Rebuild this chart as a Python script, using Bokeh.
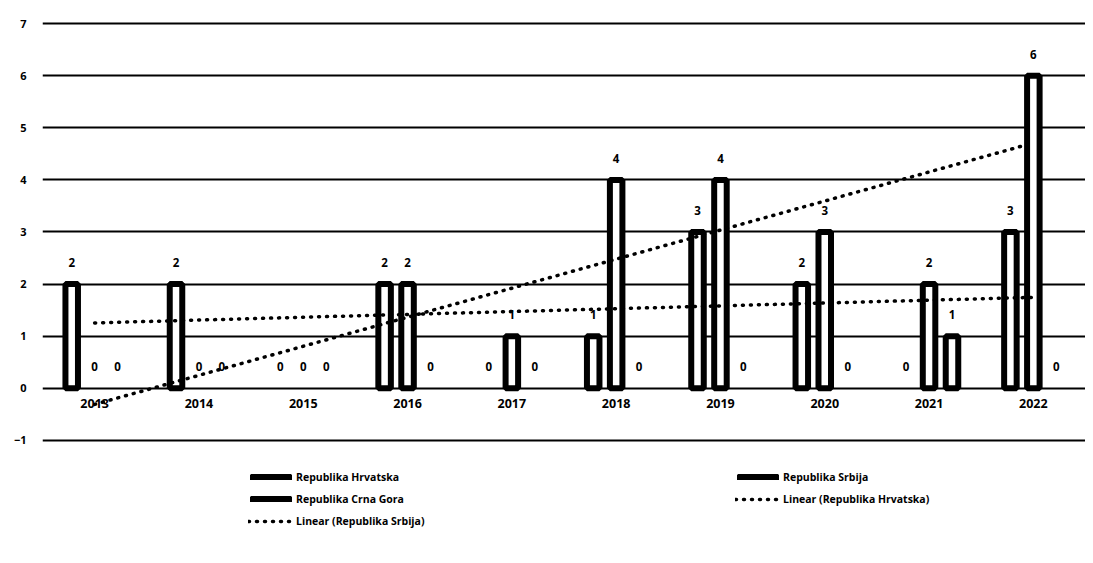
import numpy as np
from bokeh.plotting import figure
from bokeh.models import (ColumnDataSource, FactorRange, Range1d,
                          Legend, LegendItem, FixedTicker)
from bokeh.transform import dodge
from bokeh.core.properties import value
from bokeh.embed import file_html
from bokeh.resources import INLINE

years = ["2013", "2014", "2015", "2016", "2017", "2018", "2019", "2020", "2021", "2022"]
hrvatska = [2, 2, 0, 2, 0, 1, 3, 2, 0, 3]
srbija = [0, 0, 0, 2, 1, 4, 4, 3, 2, 6]
crna_gora = [0, 0, 0, 0, 0, 0, 0, 0, 1, 0]
y_ticks = [-1, 0, 1, 2, 3, 4, 5, 6, 7]

FONT = "Open Sans"

# the frame reaches the bottom of the figure so that the legend can sit inside it,
# under the -1 gridline (no ticks exist below -1)
p = figure(x_range=FactorRange(*years), y_range=Range1d(-3.21, 7.04),
           width=1085, height=555, output_backend="svg", toolbar_location=None,
           x_axis_location=None, min_border_left=42, min_border_right=0,
           min_border_top=21, min_border_bottom=0)
p.outline_line_color = None
p.xgrid.visible = False

p.yaxis.ticker = FixedTicker(ticks=y_ticks)
p.yaxis.axis_line_color = None
p.yaxis.major_tick_line_color = None
p.yaxis.minor_tick_line_color = None
p.yaxis.major_label_text_font = FONT
p.yaxis.major_label_text_font_style = "bold"
p.yaxis.major_label_text_font_size = "11px"
p.yaxis.major_label_text_color = "black"
p.yaxis.major_label_standoff = 10
p.ygrid.grid_line_color = "black"
p.ygrid.grid_line_width = 2

# category labels sit just under the zero line
year_src = ColumnDataSource(dict(x=years, y=[0] * len(years)))
p.text(x="x", y="y", text="x", source=year_src, text_align="center",
       text_baseline="top", y_offset=11, text_font=value(FONT),
       text_font_style="bold", text_font_size="12.5px", text_color="black")

offsets = [-0.22, 0.0, 0.22]
series = [("Republika Hrvatska", hrvatska), ("Republika Srbija", srbija),
          ("Republika Crna Gora", crna_gora)]
bar_renderers = []
for (name, vals), off in zip(series, offsets):
    nz = [(y, v) for y, v in zip(years, vals) if v != 0]
    src_bar = ColumnDataSource(dict(x=[a for a, _ in nz], top=[b for _, b in nz]))
    r = p.vbar(x=dodge("x", off, range=p.x_range), top="top", bottom=0, width=0.12,
               fill_color="white", line_color="black", line_width=6, source=src_bar)
    bar_renderers.append(r)
    src_lab = ColumnDataSource(dict(x=years, y=vals, t=[str(v) for v in vals]))
    p.text(x=dodge("x", off, range=p.x_range), y="y", text="t", source=src_lab,
           text_align="center", text_baseline="bottom", y_offset=-17,
           text_font=value(FONT), text_font_style="bold", text_font_size="11.5px",
           text_color="black")

xs = np.arange(1, len(years) + 1)
trend_renderers = []
for vals in (hrvatska, srbija):
    k, b = np.polyfit(xs, np.array(vals, dtype=float), 1)
    r = p.line(x=years, y=list(k * xs + b), line_color="black", line_width=3.5,
               line_dash="1 7", line_cap="round")
    trend_renderers.append(r)

items = [
    LegendItem(label="Republika Hrvatska", renderers=[bar_renderers[0]]),
    LegendItem(label="Republika Srbija", renderers=[bar_renderers[1]]),
    LegendItem(label="Republika Crna Gora", renderers=[bar_renderers[2]]),
    LegendItem(label="Linear (Republika Hrvatska)", renderers=[trend_renderers[0]]),
    LegendItem(label="Linear (Republika Srbija)", renderers=[trend_renderers[1]]),
]
legend = Legend(items=items, ncols=2, orientation="horizontal", location=(206, 26),
                glyph_width=45, glyph_height=6, label_standoff=3, label_width=433,
                label_height=16, spacing=6, padding=0, margin=0,
                border_line_color=None, background_fill_alpha=0,
                label_text_font=FONT, label_text_font_style="bold",
                label_text_font_size="10.5px", label_text_color="black")
p.add_layout(legend, "center")

open("out.html", "w").write(file_html(p, INLINE))
